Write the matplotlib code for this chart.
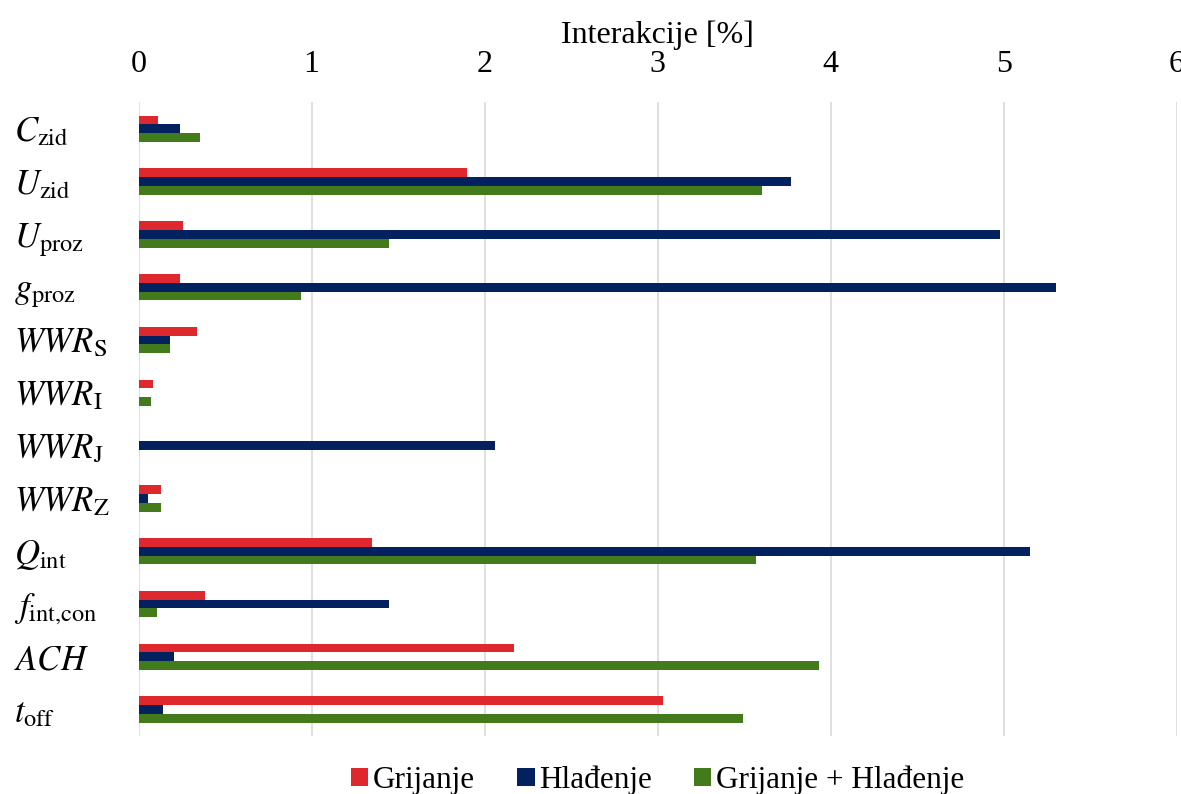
import numpy as np
import matplotlib.pyplot as plt

plt.rcParams['font.family'] = ['Liberation Serif', 'DejaVu Serif']
plt.rcParams['mathtext.fontset'] = 'stix'

# Categories (top to bottom)
categories = [r'$C_\mathrm{zid}$', r'$U_\mathrm{zid}$', r'$U_\mathrm{proz}$', r'$g_\mathrm{proz}$',
              r'$WWR_\mathrm{S}$', r'$WWR_\mathrm{I}$', r'$WWR_\mathrm{J}$', r'$WWR_\mathrm{Z}$',
              r'$Q_\mathrm{int}$', r'$f_\mathrm{int{,}con}$', r'$ACH$', r'$t_\mathrm{off}$']

# Interaction values [%]
grijanje = [0.115, 1.90, 0.255, 0.24, 0.34, 0.084, 0.0, 0.13, 1.35, 0.383, 2.17, 3.03]
hladjenje = [0.237, 3.77, 4.98, 5.30, 0.18, 0.0, 2.06, 0.055, 5.15, 1.45, 0.206, 0.142]
oba = [0.357, 3.60, 1.45, 0.94, 0.18, 0.073, 0.0, 0.127, 3.565, 0.109, 3.93, 3.49]

series_labels = ['Grijanje', 'Hlađenje', 'Grijanje + Hlađenje']
colors = ['#DF282D', '#03215F', '#437A1B']

fig = plt.figure(figsize=(11.81, 7.94), dpi=100)
ax = fig.add_axes([0.1173, 0.073, 0.8793, 0.798])

y = np.arange(len(categories))
h = 0.167
for i, (vals, lab, col) in enumerate(zip([grijanje, hladjenje, oba], series_labels, colors)):
    ax.barh(y + (i - 1) * h, vals, height=h, color=col, label=lab, zorder=3)

ax.set_xlim(0, 6)
ax.set_ylim(len(categories) - 0.5, -0.5)
ax.set_xticks(range(7))
ax.set_yticks(y)
ax.set_yticklabels(categories, fontsize=25)
for t in ax.get_yticklabels():
    t.set_horizontalalignment('left')
ax.tick_params(axis='y', pad=90, length=0)
ax.xaxis.tick_top()
ax.xaxis.set_label_position('top')
ax.tick_params(axis='x', length=0, labelsize=23, pad=17)
ax.set_xlabel('Interakcije [%]', fontsize=23, labelpad=5)
ax.grid(axis='x', color='#D9D9D9', linewidth=1.2, zorder=0)
for s in ax.spines.values():
    s.set_visible(False)

ax.legend(loc='upper center', bbox_to_anchor=(0.5, -0.012), ncol=3, frameon=False,
          fontsize=22.5, handlelength=0.55, handleheight=0.55, handletextpad=0.15,
          columnspacing=1.35, borderpad=0.2)

fig.savefig('out.png', dpi=100)
